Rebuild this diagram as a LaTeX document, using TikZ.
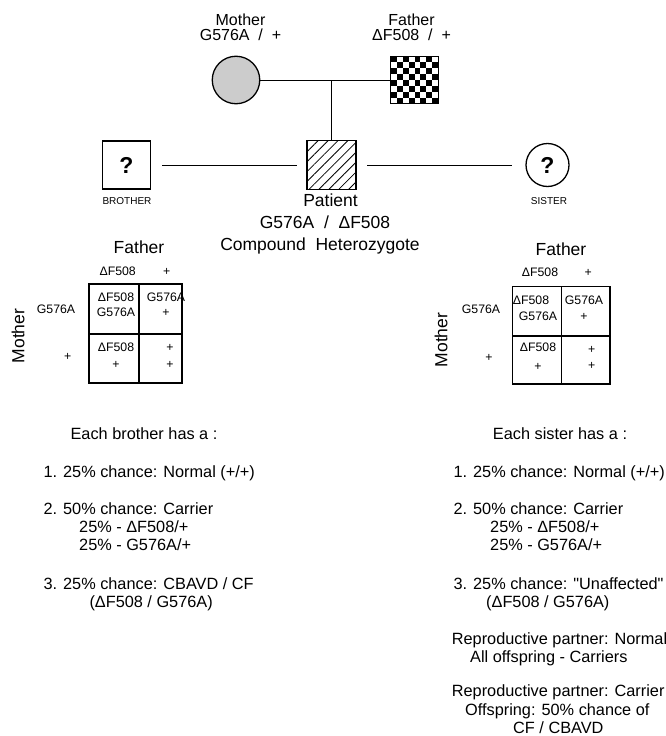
\documentclass[tikz,border=0pt]{standalone}
\usepackage{fontspec}
\setmainfont{Liberation Sans}[Ligatures=TeXOff]
\usetikzlibrary{shapes,patterns.meta,positioning,calc}

\begin{document}
\begin{tikzpicture}[
    x=1pt, y=-1pt,
    male/.style={draw, rectangle, line width=1.3pt, minimum size=48pt, inner sep=0pt},
    female/.style={draw, circle, line width=1.3pt, minimum size=47.5pt, inner sep=0pt},
    qmark/.style={font=\fontsize{23}{23}\selectfont\bfseries},
    line/.style={line width=0.9pt},
    gridline/.style={line width=1.3pt},
    parent/.style={font=\fontsize{16}{15.5}\selectfont, align=center, inner sep=0pt, anchor=base},
    ptxt/.style={font=\fontsize{17.5}{21.6}\selectfont, align=center, inner sep=0pt, anchor=base},
    tag/.style={font=\fontsize{10}{10}\selectfont, inner sep=0pt, anchor=base},
    head/.style={font=\fontsize{17.5}{17.5}\selectfont, inner sep=0pt},
    allele/.style={font=\fontsize{12.3}{15}\selectfont, inner sep=0pt, anchor=base, align=center},
    body/.style={font=\fontsize{16.3}{18.3}\selectfont, inner sep=0pt, align=left, anchor=base west}
]
    \useasboundingbox (0,0) rectangle (666,736);

    % 1. Parents (Top)
    \node[female, fill=black!20] (mother) at (236,80) {};
    \node[male, minimum size=47.5pt, path picture={
        \foreach \i in {0,...,7}
          \foreach \j in {0,...,7} {
            \pgfmathtruncatemacro{\chk}{mod(\i+\j,2)}
            \ifnum\chk=0
              \fill ($(path picture bounding box.north west)+(\i*5.94,\j*5.94)$) rectangle ++(5.94,5.94);
            \fi
          }
      }] (father) at (414.5,80) {};
    % multi-line nodes sit on the baseline of their last line
    \node[parent] (mothertxt) at (240.5,40.8) {Mother\\G576A\ \ /\ \ +};
    \node[parent] (fathertxt) at (411.5,40.8) {Father\\ΔF508\ \ /\ \ +};

    % 2. Patient and siblings
    \node[male, minimum size=49pt, pattern={Lines[angle=45,distance=7pt,line width=0.8pt]}] (patient) at (331.5,165) {};
    \node[male, qmark] (brother) at (126.5,165) {?};
    \node[female, minimum size=43pt, qmark] (sister) at (547.5,165) {?};
    \node[tag] (brothertxt) at (127,204) {BROTHER};
    \node[tag] (sistertxt) at (549,204) {SISTER};
    \node[ptxt] (patienttxt) at (325,250) {\hspace*{11pt}Patient\\G576A\ \ /\ \ ΔF508\\Compound\ \ Heterozygote\hspace*{10pt}};

    % 3. Connections
    \draw[line] (mother) -- (father);
    \draw[line] (patient.north) -- (patient.north |- mother.east);
    \draw[line, shorten <=11pt, shorten >=10pt] (brother) -- (patient);
    \draw[line, shorten <=11pt, shorten >=13pt] (patient) -- (sister);

    % 4. Punnett square for the brother (Left)
    \node[head] (lfather) at (139,247) {Father};
    \node[head, rotate=90] (lmother) at (18,336) {Mother};
    \node[allele] (lfa) at (117.7,275) {ΔF508};
    \node[allele] (lfb) at (166.7,275) {+};
    \node[allele] (lma) at (56,313) {G576A};
    \node[allele] (lmb) at (67.7,360) {+};
    \draw[gridline] (89,284) rectangle (182,383);
    \draw[gridline] (139,284) -- (139,383);
    \draw[gridline] (89,334) -- (182,334);
    \node[allele] (l11) at (116,316) {ΔF508\\G576A};
    \node[allele] (l12) at (166,316) {G576A\\+};
    \node[allele, font=\fontsize{12.3}{17.3}\selectfont] (l21) at (116,368.3) {ΔF508\\+};
    \node[allele, font=\fontsize{12.3}{16.6}\selectfont] (l22) at (170,368.3) {+\\+};

    % 5. Punnett square for the sister (Right)
    \node[head] (rfather) at (561,249) {Father};
    \node[head, rotate=90] (rmother) at (441,340) {Mother};
    \node[allele] (rfa) at (540,276) {ΔF508};
    \node[allele] (rfb) at (588.3,276) {+};
    \node[allele] (rma) at (481,313) {G576A};
    \node[allele] (rmb) at (489,361) {+};
    \draw[gridline] (512.7,286.7) rectangle (610,384);
    \draw[gridline] (561.7,286.7) -- (561.7,384);
    \draw[gridline] (512.7,336) -- (610,336);
    \node[allele] (r11a) at (531,304) {ΔF508};
    \node[allele] (r11b) at (538,320) {G576A};
    \node[allele, font=\fontsize{12.3}{16}\selectfont] (r12) at (584,320) {G576A\\+};
    \node[allele, font=\fontsize{12.3}{19.3}\selectfont] (r21) at (538,370.7) {ΔF508\\+};
    \node[allele, font=\fontsize{12.3}{16.7}\selectfont] (r22) at (591.7,369.7) {+\\+};

    % 6. Risks for each brother
    \node[body, anchor=base] (brhead) at (144,439) {Each brother has a :};
    \node[body] (br1) at (43.3,477.4) {1. 25\% chance: Normal (+/+)};
    \node[body] (br2) at (43.3,550.6) {2. 50\% chance: Carrier\\\hspace*{35.7pt}25\% - ΔF508/+\\\hspace*{35.7pt}25\% - G576A/+};
    \node[body] (br3) at (43.3,607.3) {3. 25\% chance: CBAVD / CF\\\hspace*{46pt}(ΔF508 / G576A)};

    % 7. Risks for each sister
    \node[body, anchor=base] (sihead) at (560,439) {Each sister has a :};
    \node[body] (si1) at (453.3,477.4) {1. 25\% chance: Normal (+/+)};
    \node[body] (si2) at (453.3,550.6) {2. 50\% chance: Carrier\\\hspace*{36.7pt}25\% - ΔF508/+\\\hspace*{36.7pt}25\% - G576A/+};
    \node[body] (si3) at (453.3,607.3) {3. 25\% chance: "Unaffected"\\\hspace*{32.7pt}(ΔF508 / G576A)};
    \node[body] (si4) at (451.7,662.5) {Reproductive partner: Normal\\\hspace*{18.3pt}All offspring - Carriers};
    \node[body] (si5) at (451.7,733.5) {Reproductive partner: Carrier\\\hspace*{13.3pt}Offspring: 50\% chance of\\\hspace*{61.3pt}CF / CBAVD};

\end{tikzpicture}
\end{document}
